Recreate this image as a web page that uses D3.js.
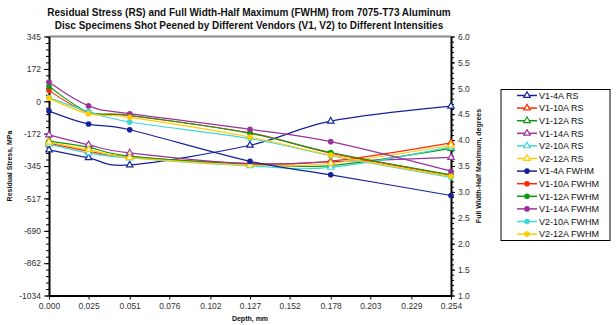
<!DOCTYPE html>
<html>
<head>
<meta charset="utf-8">
<script src="https://cdn.jsdelivr.net/npm/d3@7"></script>
<style>
    body { margin: 0; background: #fff; }
    svg { font-family: Arial, "Liberation Sans", sans-serif; }
    .tick text { fill: #333; font-size: 8.5px; }
</style>
</head>
<body>
<script>
// chart data
var depths = [0, 0.025, 0.051, 0.127, 0.178, 0.254];
var seriesNames = ["V1-4A", "V1-10A", "V1-12A", "V1-14A", "V2-10A", "V2-12A"];

// residual stress, MPa (left axis)
var rsV1_4A  = [-259, -301, -339, -234, -106, -26];
var rsV1_10A = [-223, -266, -296, -331, -319, -221];
var rsV1_12A = [-212, -244, -292, -335, -342, -251];
var rsV1_14A = [-179, -232, -275, -333, -322, -299];
var rsV2_10A = [-228, -275, -302, -344, -352, -243];
var rsV2_12A = [-218, -257, -299, -340, -330, -234];

// FWHM, degrees (right axis)
var fwV1_4A  = [4.56, 4.31, 4.20, 3.59, 3.33, 2.93];
var fwV1_10A = [4.96, 4.53, 4.47, 4.14, 3.75, 3.32];
var fwV1_12A = [5.04, 4.54, 4.48, 4.13, 3.76, 3.33];
var fwV1_14A = [5.12, 4.66, 4.51, 4.21, 3.97, 3.40];
var fwV2_10A = [4.82, 4.55, 4.35, 4.03, 3.70, 3.28];
var fwV2_12A = [4.81, 4.51, 4.44, 4.06, 3.71, 3.30];

// tick labels
var xTicks = [0, 0.025, 0.051, 0.076, 0.102, 0.127, 0.152, 0.178, 0.203, 0.229, 0.254];
var leftTicks = [345, 172, 0, -172, -345, -517, -690, -862, -1034];
var rightTicks = [1.0, 1.5, 2.0, 2.5, 3.0, 3.5, 4.0, 4.5, 5.0, 5.5, 6.0];

var colors = ["#14239a", "#ff2a00", "#0f990f", "#993399", "#3fd6d6", "#ffcc00"];

// plot frame (named so they don't clash with window.top etc.)
var w = 616, h = 325;
var plotL = 49, plotR = 451, plotT = 36.5, plotB = 295.5;

var svg = d3.select("body").append("svg")
    .attr("width", w)
    .attr("height", h);

var x = d3.scaleLinear().domain([0, 0.254]).range([plotL, plotR]);
var yL = d3.scaleLinear().domain([-1034, 345]).range([plotB, plotT]);
var yR = d3.scaleLinear().domain([1, 6]).range([plotB, plotT]);

// title
var title = svg.append("text")
    .attr("text-anchor", "middle")
    .attr("font-size", "10px")
    .attr("font-weight", "bold")
    .attr("fill", "#111");
title.append("tspan").attr("x", 249).attr("y", 16)
    .text("Residual Stress (RS) and Full Width-Half Maximum (FWHM) from 7075-T73 Aluminum");
title.append("tspan").attr("x", 249).attr("y", 29)
    .text("Disc Specimens Shot Peened by Different Vendors (V1, V2) to Different Intensities");

// top frame line
svg.append("line")
    .attr("x1", plotL).attr("x2", plotR)
    .attr("y1", plotT).attr("y2", plotT)
    .attr("stroke", "#8a8a8a")
    .attr("stroke-width", 2);

// minor ticks
var minorL = d3.range(0, 41).map(function (i) { return -1034 + i * 1379 / 40; });
var minorR = d3.range(0, 51).map(function (i) { return 1 + i * 0.1; });

svg.append("g")
    .attr("transform", "translate(" + plotL + ",0)")
    .call(d3.axisLeft(yL).tickValues(minorL).tickSize(3).tickFormat(""))
    .call(function (g) { g.select(".domain").remove(); });

svg.append("g")
    .attr("transform", "translate(" + plotR + ",0)")
    .call(d3.axisRight(yR).tickValues(minorR).tickSize(3).tickFormat(""))
    .call(function (g) { g.select(".domain").remove(); });

// major axes (plain hyphen for negatives, like the reference)
var axisL = svg.append("g")
    .attr("transform", "translate(" + plotL + ",0)")
    .call(d3.axisLeft(yL).tickValues(leftTicks).tickSize(5).tickSizeOuter(0).tickPadding(3)
        .tickFormat(function (d) { return String(d); }));

var axisR = svg.append("g")
    .attr("transform", "translate(" + plotR + ",0)")
    .call(d3.axisRight(yR).tickValues(rightTicks).tickSize(4).tickSizeOuter(0).tickPadding(3)
        .tickFormat(function (d) { return d.toFixed(1); }));

var axisX = svg.append("g")
    .attr("transform", "translate(0," + plotB + ")")
    .call(d3.axisBottom(x).tickValues(xTicks).tickSize(4).tickSizeOuter(0).tickPadding(3)
        .tickFormat(function (d) { return d.toFixed(3); }));

svg.selectAll(".domain").attr("stroke", "#000").attr("stroke-width", 2);
svg.selectAll(".tick line").attr("stroke", "#000");

// axis titles
svg.append("text")
    .attr("transform", "translate(12,166) rotate(-90)")
    .attr("text-anchor", "middle")
    .attr("font-size", "7px")
    .attr("font-weight", "bold")
    .attr("fill", "#111")
    .text("Residual Stress, MPa");

svg.append("text")
    .attr("transform", "translate(481,166) rotate(-90)")
    .attr("text-anchor", "middle")
    .attr("font-size", "7px")
    .attr("font-weight", "bold")
    .attr("fill", "#111")
    .text("Full Width-Half Maximum, degrees");

svg.append("text")
    .attr("x", 250)
    .attr("y", 321)
    .attr("text-anchor", "middle")
    .attr("font-size", "7px")
    .attr("font-weight", "bold")
    .attr("fill", "#111")
    .text("Depth, mm");

// build series
var rsData = [rsV1_4A, rsV1_10A, rsV1_12A, rsV1_14A, rsV2_10A, rsV2_12A];
var fwData = [fwV1_4A, fwV1_10A, fwV1_12A, fwV1_14A, fwV2_10A, fwV2_12A];
var series = [];
seriesNames.forEach(function (n, i) {
    series.push({ name: n + " RS", kind: "rs", color: colors[i], values: rsData[i] });
});
seriesNames.forEach(function (n, i) {
    series.push({ name: n + " FWHM", kind: "fw", color: colors[i], values: fwData[i] });
});

var tri = d3.symbol().type(d3.symbolTriangle).size(18);

series.forEach(function (s) {
    var ys = s.kind == "rs" ? yL : yR;
    var line = d3.line()
        .x(function (d, i) { return x(depths[i]); })
        .y(function (d) { return ys(d); })
        .curve(d3.curveCardinal.tension(0));

    svg.append("path")
        .datum(s.values)
        .attr("fill", "none")
        .attr("stroke", s.color)
        .attr("stroke-width", 1.2)
        .attr("d", line);

    if (s.kind == "rs") {
        svg.selectAll(null)
            .data(s.values)
            .enter()
            .append("path")
            .attr("d", tri)
            .attr("transform", function (d, i) {
                return "translate(" + x(depths[i]) + "," + ys(d) + ")";
            })
            .attr("fill", "#fff")
            .attr("stroke", s.color)
            .attr("stroke-width", 1.2);
    } else {
        svg.selectAll(null)
            .data(s.values)
            .enter()
            .append("circle")
            .attr("cx", function (d, i) { return x(depths[i]); })
            .attr("cy", function (d) { return ys(d); })
            .attr("r", 2.8)
            .attr("fill", s.color);
    }
});

// legend
var legend = svg.append("g");
legend.append("rect")
    .attr("x", 501).attr("y", 89.5)
    .attr("width", 109).attr("height", 151)
    .attr("fill", "#fff")
    .attr("stroke", "#000")
    .attr("stroke-width", 1);

var items = legend.selectAll(".item")
    .data(series)
    .enter()
    .append("g")
    .attr("class", "item")
    .attr("transform", function (d, i) {
        return "translate(0," + (95.5 + i * 12.6) + ")";
    });

items.append("line")
    .attr("x1", 517).attr("x2", 537)
    .attr("stroke", function (d) { return d.color; })
    .attr("stroke-width", 1.5);

items.each(function (d) {
    var g = d3.select(this);
    if (d.kind == "rs") {
        g.append("path")
            .attr("d", tri)
            .attr("transform", "translate(527,0)")
            .attr("fill", "#fff")
            .attr("stroke", d.color)
            .attr("stroke-width", 1.2);
    } else {
        g.append("circle")
            .attr("cx", 527).attr("cy", 0).attr("r", 2.8)
            .attr("fill", d.color);
    }
});

items.append("text")
    .attr("x", 539)
    .attr("y", 3.3)
    .attr("font-size", "9px")
    .attr("fill", "#111")
    .text(function (d) { return d.name; });
</script>
</body>
</html>
